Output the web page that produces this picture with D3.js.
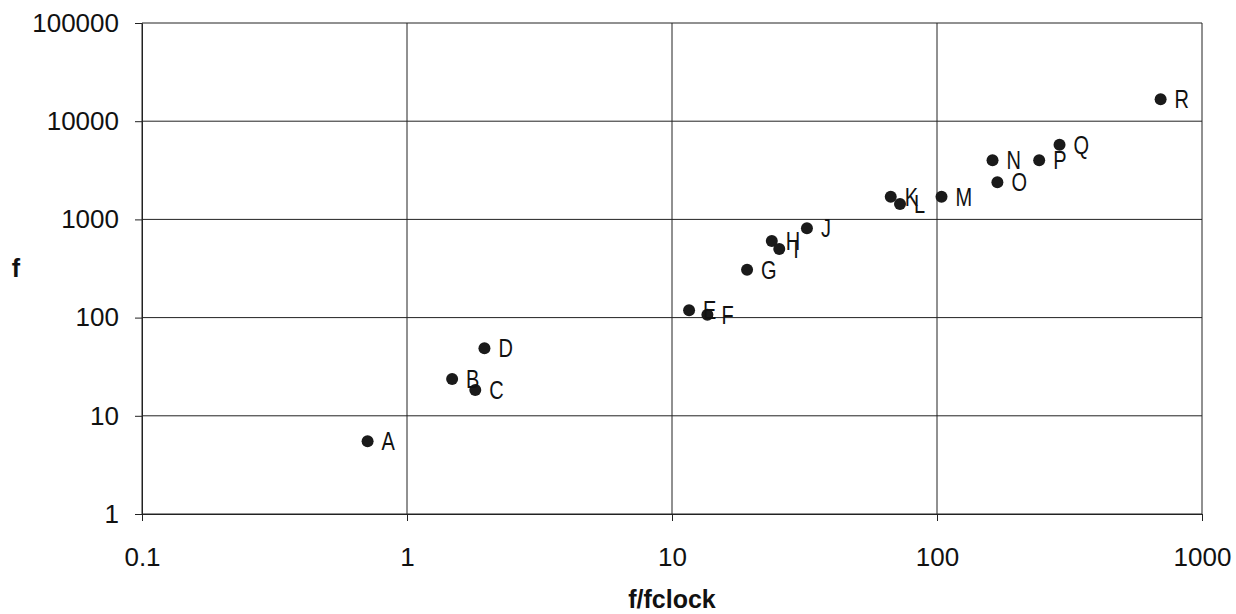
<!DOCTYPE html>
<html>
<head>
<meta charset="utf-8">
<script src="https://cdn.jsdelivr.net/npm/d3@7"></script>
<style>
  html, body { margin: 0; padding: 0; background: #fff; }
  svg { display: block; }
</style>
</head>
<body>
<div id="chart"></div>
<script>
// Point names and coordinates (log–log scatter)
const names  = ["A","B","C","D","E","F","G","H","I","J","K","L","M","N","O","P","Q","R"];
const ratio  = [0.71, 1.48, 1.81, 1.96, 11.6, 13.6, 19.2, 23.8, 25.4, 32.3, 66.9, 72.5, 104, 162, 169, 243, 290, 698];
const freq   = [5.5, 23.7, 18.3, 48.7, 119, 107, 307, 603, 500, 812, 1700, 1435, 1700, 4000, 2390, 4000, 5770, 16700];

const xTicks = [0.1, 1, 10, 100, 1000];
const yTicks = [1, 10, 100, 1000, 10000, 100000];
const xTitle = "f/fclock";
const yTitle = "f";

const W = 1236, H = 614;
const margin = { left: 142, right: 34, top: 23, bottom: 100 };
const sans = "'Liberation Sans', Arial, sans-serif";

const svg = d3.select("#chart").append("svg")
  .attr("width", W).attr("height", H);

const x = d3.scaleLog().domain([0.1, 1000]).range([margin.left, W - margin.right]);
const y = d3.scaleLog().domain([1, 100000]).range([H - margin.bottom, margin.top]);

const gridColor = "#222";

// gridlines
svg.append("g").selectAll("line").data(yTicks).join("line")
  .attr("x1", x(0.1)).attr("x2", x(1000))
  .attr("y1", d => y(d)).attr("y2", d => y(d))
  .attr("stroke", gridColor).attr("stroke-width", 1);
svg.append("g").selectAll("line").data(xTicks).join("line")
  .attr("y1", y(1)).attr("y2", y(100000))
  .attr("x1", d => x(d)).attr("x2", d => x(d))
  .attr("stroke", gridColor).attr("stroke-width", 1);

const fmt = d => String(d);

const xAxis = svg.append("g")
  .attr("transform", `translate(0,${y(1)})`)
  .call(d3.axisBottom(x).tickValues(xTicks).tickFormat(fmt).tickSize(7).tickSizeOuter(0).tickPadding(27));
const yAxis = svg.append("g")
  .attr("transform", `translate(${x(0.1)},0)`)
  .call(d3.axisLeft(y).tickValues(yTicks).tickFormat(fmt).tickSize(7).tickSizeOuter(0).tickPadding(16));

[xAxis, yAxis].forEach(g => {
  g.attr("font-family", sans).attr("font-size", 26);
  g.select(".domain").attr("stroke", gridColor);
  g.selectAll(".tick line").attr("stroke", gridColor);
  g.selectAll(".tick text").attr("fill", "#111");
});

// axis titles
svg.append("text")
  .attr("x", (x(0.1) + x(1000)) / 2).attr("y", 608)
  .attr("text-anchor", "middle")
  .attr("font-family", sans)
  .attr("font-weight", "bold").attr("font-size", 25).attr("fill", "#111")
  .text(xTitle);
svg.append("text")
  .attr("x", 16).attr("y", 277)
  .attr("text-anchor", "middle")
  .attr("font-family", sans)
  .attr("font-weight", "bold").attr("font-size", 25).attr("fill", "#111")
  .text(yTitle);

const pts = names.map((n, i) => ({ n, x: ratio[i], y: freq[i] }));

// markers
svg.append("g").selectAll("circle").data(pts).join("circle")
  .attr("cx", d => x(d.x)).attr("cy", d => y(d.y)).attr("r", 6)
  .attr("fill", "#1a1a1a");

// point labels (narrow lettering)
svg.append("g").selectAll("text").data(pts).join("text")
  .attr("transform", d => `translate(${x(d.x) + 14},${y(d.y) + 9}) scale(0.8,1)`)
  .attr("font-family", sans)
  .attr("font-size", 25).attr("fill", "#111")
  .text(d => d.n);
</script>
</body>
</html>
